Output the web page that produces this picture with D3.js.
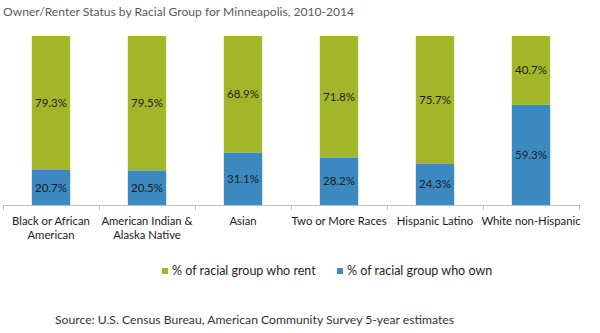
<!DOCTYPE html>
<html>
<head>
<meta charset="utf-8">
<title>Owner/Renter Status</title>
<script src="https://d3js.org/d3.v7.min.js"></script>
<style>
  body { margin: 0; background: #fff; font-family: "Lato", "Noto Sans", sans-serif; }
  svg text { font-family: "Lato", "Noto Sans", sans-serif; }
</style>
</head>
<body>
<script>
// data
var groups = [
  ["Black or African", "American"],
  ["American Indian &", "Alaska Native"],
  ["Asian"],
  ["Two or More Races"],
  ["Hispanic Latino"],
  ["White non-Hispanic"]
];
var own = [20.7, 20.5, 31.1, 28.2, 24.3, 59.3];
var rent = [79.3, 79.5, 68.9, 71.8, 75.7, 40.7];
var seriesNames = ["% of racial group who rent", "% of racial group who own"];
var colors = ["#a2b62a", "#3a89c1"];

var width = 600, height = 333;

var svg = d3.select("body").append("svg")
  .attr("width", width)
  .attr("height", height);

// title
svg.append("text")
  .attr("x", 3).attr("y", 16)
  .attr("font-size", 12.1)
  .attr("fill", "#595959")
  .text("Owner/Renter Status by Racial Group for Minneapolis, 2010-2014");

var x = d3.scaleBand()
  .domain(d3.range(groups.length))
  .range([3, 579])
  .paddingInner(0.6)
  .paddingOuter(0.3);

var y = d3.scaleLinear()
  .domain([0, 100])
  .range([205, 36]);

var rows = d3.range(groups.length).map(function(i) {
  return { i: i, own: own[i], rent: rent[i] };
});

// owners at the bottom
svg.append("g").selectAll("rect")
  .data(rows).enter().append("rect")
  .attr("x", function(d) { return x(d.i); })
  .attr("width", x.bandwidth())
  .attr("y", function(d) { return y(d.own); })
  .attr("height", function(d) { return y(0) - y(d.own); })
  .attr("fill", colors[1]);

// renters stacked on top
svg.append("g").selectAll("rect")
  .data(rows).enter().append("rect")
  .attr("x", function(d) { return x(d.i); })
  .attr("width", x.bandwidth())
  .attr("y", function(d) { return y(d.own + d.rent); })
  .attr("height", function(d) { return y(d.own) - y(d.own + d.rent); })
  .attr("fill", colors[0]);

// value labels
var lab = svg.append("g")
  .attr("font-size", 11.5)
  .attr("fill", "#1e1e1e")
  .attr("text-anchor", "middle");

lab.selectAll(".own").data(rows).enter().append("text")
  .attr("x", function(d) { return x(d.i) + x.bandwidth() / 2; })
  .attr("y", function(d) { return (y(0) + y(d.own)) / 2 + 4; })
  .text(function(d) { return d.own.toFixed(1) + "%"; });

lab.selectAll(".rent").data(rows).enter().append("text")
  .attr("x", function(d) { return x(d.i) + x.bandwidth() / 2; })
  .attr("y", function(d) { return (y(d.own) + y(d.own + d.rent)) / 2 + 4; })
  .text(function(d) { return d.rent.toFixed(1) + "%"; });

// axis line and ticks between categories
var step = x.step();
var ax = svg.append("g").attr("stroke", "#bfbfbf").attr("stroke-width", 1);
ax.append("line")
  .attr("x1", 3).attr("x2", 579)
  .attr("y1", 205.5).attr("y2", 205.5);
ax.selectAll(".tick").data(d3.range(groups.length + 1)).enter().append("line")
  .attr("x1", function(d) { return 3.5 + d * step; })
  .attr("x2", function(d) { return 3.5 + d * step; })
  .attr("y1", 205).attr("y2", 210);

// category labels
var cat = svg.append("g")
  .attr("font-size", 11.3)
  .attr("fill", "#1a1a1a")
  .attr("text-anchor", "middle");
cat.selectAll("text").data(rows).enter().append("text")
  .attr("x", function(d) { return x(d.i) + x.bandwidth() / 2; })
  .attr("y", 225)
  .each(function(d) {
    var t = d3.select(this);
    groups[d.i].forEach(function(line, k) {
      t.append("tspan")
        .attr("x", x(d.i) + x.bandwidth() / 2)
        .attr("dy", k === 0 ? 0 : 13.5)
        .text(line);
    });
  });

// legend
var legX = [162, 337];
var leg = svg.append("g");
seriesNames.forEach(function(name, k) {
  leg.append("rect")
    .attr("x", legX[k]).attr("y", 268)
    .attr("width", 6).attr("height", 6)
    .attr("fill", colors[k]);
  leg.append("text")
    .attr("x", legX[k] + 10).attr("y", 275)
    .attr("font-size", 12.5)
    .attr("fill", "#1e1e1e")
    .text(name);
});

// source
svg.append("text")
  .attr("x", 55).attr("y", 324)
  .attr("font-size", 12.2)
  .attr("fill", "#333")
  .text("Source: U.S. Census Bureau, American Community Survey 5-year estimates");
</script>
</body>
</html>
